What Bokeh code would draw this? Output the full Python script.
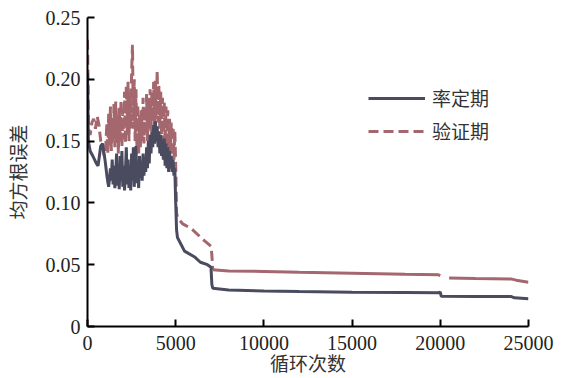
from bokeh.plotting import figure
from bokeh.models import FixedTicker, Legend, LegendItem, CustomJSTickFormatter
from bokeh.embed import file_html
from bokeh.resources import INLINE

# ---- data ----
cal_x = [0, 50, 150, 300, 500, 600, 750, 850, 1000, 1050, 1100, 1150, 1200, 1250, 1300, 1350,
         1400, 1450, 1500, 1550, 1600, 1650, 1700, 1750, 1800, 1850, 1900, 1950, 2000, 2050,
         2100, 2150, 2200, 2250, 2300, 2350, 2400, 2450, 2500, 2550, 2600, 2650, 2700, 2750,
         2800, 2850, 2900, 2950, 3000, 3050, 3100, 3150, 3200, 3250, 3300, 3350, 3400, 3450,
         3500, 3550, 3600, 3650, 3700, 3750, 3800, 3850, 3900, 3950, 4000, 4050, 4100, 4150,
         4200, 4250, 4300, 4350, 4400, 4450, 4500, 4550, 4600, 4650, 4700, 4750, 4800, 4850,
         4900, 4950, 5000, 5050, 5100, 5500, 6100, 6400, 6800, 7000, 7050, 7100, 8000, 10000,
         12000, 15000, 18000, 19900, 20000, 20050, 22000, 24000, 24200, 25000]
cal_y = [0.205, 0.150, 0.142, 0.138, 0.132, 0.130, 0.146, 0.148, 0.134, 0.128, 0.122, 0.117,
         0.113, 0.120, 0.128, 0.118, 0.135, 0.115, 0.130, 0.112, 0.125, 0.140, 0.114, 0.128,
         0.111, 0.138, 0.118, 0.142, 0.113, 0.130, 0.110, 0.125, 0.145, 0.115, 0.135, 0.112,
         0.128, 0.110, 0.140, 0.118, 0.145, 0.113, 0.132, 0.146, 0.116, 0.128, 0.112, 0.138,
         0.120, 0.130, 0.118, 0.140, 0.122, 0.135, 0.125, 0.145, 0.128, 0.150, 0.132, 0.155,
         0.140, 0.158, 0.145, 0.163, 0.148, 0.166, 0.150, 0.162, 0.145, 0.158, 0.140, 0.155,
         0.138, 0.150, 0.135, 0.152, 0.130, 0.148, 0.128, 0.145, 0.125, 0.142, 0.128, 0.138,
         0.125, 0.135, 0.122, 0.128, 0.100, 0.078, 0.072, 0.061, 0.056, 0.052, 0.050, 0.048,
         0.034, 0.031, 0.0295, 0.0288, 0.0283, 0.0278, 0.0275, 0.0273, 0.0278, 0.0245,
         0.0243, 0.0243, 0.0232, 0.0225]

val_x = [0, 30, 60, 150, 250, 350, 450, 550, 650, 750, 850, 950, 1000, 1050, 1100, 1150,
         1200, 1250, 1300, 1350, 1400, 1450, 1500, 1550, 1600, 1650, 1700, 1750, 1800, 1850,
         1900, 1950, 2000, 2050, 2100, 2150, 2200, 2250, 2300, 2350, 2400, 2450, 2500, 2550,
         2600, 2650, 2700, 2750, 2800, 2850, 2900, 2950, 3000, 3050, 3100, 3150, 3200, 3250,
         3300, 3350, 3400, 3450, 3500, 3550, 3600, 3650, 3700, 3750, 3800, 3850, 3900, 3950,
         4000, 4050, 4100, 4150, 4200, 4250, 4300, 4350, 4400, 4450, 4500, 4550, 4600, 4650,
         4700, 4750, 4800, 4850, 4900, 4950, 5000, 5050, 5100, 5400, 5900, 6500, 7000, 7050,
         7100, 8000, 10000, 12000, 15000, 18000, 19900, 20000, 20050, 20500, 22000, 24000,
         24300, 25000]
val_y = [0.232, 0.200, 0.160, 0.155, 0.165, 0.168, 0.160, 0.170, 0.163, 0.150, 0.145, 0.138,
         0.140, 0.150, 0.165, 0.140, 0.172, 0.145, 0.178, 0.142, 0.168, 0.150, 0.180, 0.145,
         0.182, 0.148, 0.170, 0.140, 0.178, 0.150, 0.183, 0.145, 0.175, 0.152, 0.190, 0.148,
         0.195, 0.155, 0.198, 0.150, 0.188, 0.160, 0.205, 0.228, 0.160, 0.200, 0.150, 0.192,
         0.145, 0.180, 0.140, 0.172, 0.145, 0.175, 0.150, 0.185, 0.148, 0.178, 0.155, 0.188,
         0.150, 0.185, 0.160, 0.192, 0.158, 0.190, 0.165, 0.198, 0.160, 0.200, 0.168, 0.207,
         0.165, 0.195, 0.160, 0.190, 0.155, 0.185, 0.150, 0.182, 0.148, 0.178, 0.145, 0.175,
         0.142, 0.168, 0.140, 0.165, 0.138, 0.162, 0.135, 0.158, 0.130, 0.092, 0.088, 0.083,
         0.079, 0.071, 0.065, 0.058, 0.046, 0.045, 0.0445, 0.0438, 0.0430, 0.0422, 0.0418,
         0.0412, float("nan"), 0.0392, 0.0388, 0.0385, 0.0375, 0.0358]

x_ticks = [0, 5000, 10000, 15000, 20000, 25000]
x_tick_labels = ["0", "5000", "10000", "15000", "20000", "25000"]
y_ticks = [0, 0.05, 0.10, 0.15, 0.20, 0.25]
y_tick_labels = ["0", "0.05", "0.10", "0.15", "0.20", "0.25"]

series_names = ["率定期", "验证期"]
x_title = "循环次数"
y_title = "均方根误差"

CAL_COLOR = "#4a4b5f"
VAL_COLOR = "#a3676d"
SERIF = "Liberation Serif"
CJK = "Noto Sans CJK SC"

p = figure(width=561, height=378, output_backend="svg", toolbar_location=None,
           x_range=(0, 25000), y_range=(0, 0.25),
           min_border_left=87, min_border_right=33, min_border_top=17, min_border_bottom=52)
p.outline_line_color = None
p.grid.visible = False
p.background_fill_color = "white"

# validation: dashed part until the drop near 7000, dense (solid-looking) part after
split = val_x.index(7100)
r_val1 = p.line(val_x[:split + 1], val_y[:split + 1], line_color=VAL_COLOR, line_width=3,
                line_dash="10 5")
r_val2 = p.line(val_x[split:], val_y[split:], line_color=VAL_COLOR, line_width=3)
r_cal = p.line(cal_x, cal_y, line_color=CAL_COLOR, line_width=3)

label_js = """
let best = 0;
for (let i = 0; i < ticks_.length; i++) {
  if (Math.abs(ticks_[i] - tick) < Math.abs(ticks_[best] - tick)) { best = i; }
}
return labels_[best];
"""

for ax, tks, lbls in ((p.xaxis[0], x_ticks, x_tick_labels), (p.yaxis[0], y_ticks, y_tick_labels)):
    ax.ticker = FixedTicker(ticks=tks)
    ax.formatter = CustomJSTickFormatter(args=dict(ticks_=tks, labels_=lbls), code=label_js)
    ax.axis_line_width = 2
    ax.axis_line_color = "black"
    ax.major_tick_line_width = 2
    ax.major_tick_line_color = "black"
    ax.major_tick_in = 7
    ax.major_tick_out = 0
    ax.minor_tick_line_color = None
    ax.major_label_text_font = SERIF
    ax.major_label_text_font_size = "20px"
    ax.major_label_text_color = "#222222"
    ax.axis_label_text_font = CJK
    ax.axis_label_text_font_size = "19px"
    ax.axis_label_text_font_style = "normal"
    ax.axis_label_text_color = "#333333"

p.xaxis[0].axis_label = x_title
p.yaxis[0].axis_label = y_title
p.xaxis[0].major_label_standoff = 9
p.xaxis[0].axis_label_standoff = -4
p.yaxis[0].major_label_standoff = 7
p.yaxis[0].axis_label_standoff = 12

legend = Legend(items=[LegendItem(label=series_names[0], renderers=[r_cal]),
                       LegendItem(label=series_names[1], renderers=[r_val1])],
                location=(281, 182), orientation="vertical")
legend.border_line_color = None
legend.background_fill_alpha = 0
legend.padding = 0
legend.margin = 0
legend.spacing = 6
legend.glyph_width = 57
legend.glyph_height = 20
legend.label_height = 20
legend.label_standoff = 7
legend.label_text_font = CJK
legend.label_text_font_size = "19px"
legend.label_text_color = "#333333"
p.add_layout(legend, "center")

open("out.html", "w").write(file_html(p, INLINE))
